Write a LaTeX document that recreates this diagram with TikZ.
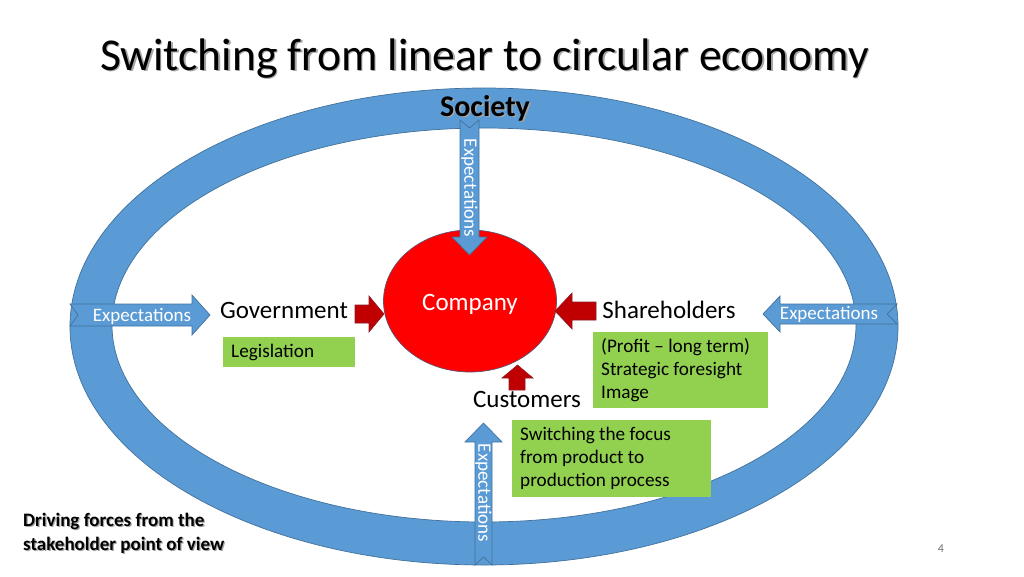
\documentclass[tikz,border=0pt]{standalone}
\usepackage{fontspec}
\setmainfont{Carlito}
\usetikzlibrary{shapes.geometric}
\definecolor{ringblue}{HTML}{5B9BD5}
\definecolor{ringedge}{HTML}{41719C}
\definecolor{leafgreen}{HTML}{92D050}
\definecolor{darkred}{HTML}{C00000}
\definecolor{compred}{HTML}{FF0000}
\definecolor{redge}{HTML}{8E1B2A}
\begin{document}
\begin{tikzpicture}[x=1pt,y=-1pt,
  bluearrow/.style={fill=ringblue,draw=ringedge,line width=0.7pt,line join=miter},
  redarrow/.style={fill=darkred,draw=redge,line width=0.6pt,line join=miter},
  biglabel/.style={font=\fontsize{25}{30}\selectfont,inner sep=0pt,anchor=base},
  explabel/.style={font=\fontsize{19}{22}\selectfont,text=white,inner sep=0pt},
  greenbox/.style={fill=leafgreen,draw=none,anchor=north west,align=flush left,inner xsep=8pt,inner ysep=0pt,font=\fontsize{19.2}{23}\selectfont},
  shadowtext/.style={text=black!35,inner sep=0pt,anchor=base west}
]
\useasboundingbox (0,0) rectangle (1024,576);
\fill[white] (0,0) rectangle (1024,576);

% title
\node[shadowtext,font=\fontsize{45.6}{50}\selectfont] (titleshadow) at (101.5,71.5) {Switching from linear to circular economy};
\node[inner sep=0pt,anchor=base west,font=\fontsize{45.6}{50}\selectfont] (title) at (100,70) {Switching from linear to circular economy};

% society ring
\path[fill=ringblue,draw=ringedge,line width=0.7pt,even odd rule]
  (484,326.5) ellipse [x radius=414, y radius=238.5]
  (484,325) ellipse [x radius=372, y radius=197];

% company
\node[ellipse,minimum width=173pt,minimum height=142pt,inner sep=0pt,fill=compred,draw=ringedge!60!redge,line width=0.7pt] (company) at (470,301) {};
\node[biglabel,text=white] (companytext) at (470,310) {Company};

% stakeholder labels
\node[biglabel] (gov) at (284,318) {Government};
\node[biglabel] (share) at (669,318) {Shareholders};

% top expectations arrow (society -> company)
\path[bluearrow] (460,120) -- (460,237) -- (452,237) -- (469.5,255) -- (487,237) -- (479,237) -- (479,120) -- (469.5,128) -- cycle;
\node[explabel,rotate=-90] (topexp) at (469.5,188) {Expectations};

% left expectations arrow (society -> government)
\path[bluearrow] (70,304) -- (192,304) -- (192,295) -- (210,315) -- (192,335) -- (192,326) -- (70,326) -- (78,315) -- cycle;
\node[explabel] (leftexp) at (142,316) {Expectations};

% right expectations arrow (society -> shareholders)
\path[bluearrow] (897,304) -- (780,304) -- (780,296) -- (763,314) -- (780,332) -- (780,324) -- (897,324) -- (887,314) -- cycle;
\node[explabel] (rightexp) at (829,314) {Expectations};

% bottom expectations arrow (society -> customers)
\path[bluearrow] (475,565) -- (475,442) -- (465,442) -- (483.5,423) -- (502,442) -- (492,442) -- (492,565) -- (483.5,557) -- cycle;
\node[explabel,rotate=-90] (botexp) at (483.5,493) {Expectations};

% society label
\node[shadowtext,font=\bfseries\fontsize{30}{34}\selectfont,anchor=base] (socshadow) at (486.5,117.5) {Society};
\node[inner sep=0pt,anchor=base,font=\bfseries\fontsize{30}{34}\selectfont] (society) at (485,116) {Society};

% red arrows into company
\path[redarrow] (355,305) -- (369,305) -- (369,296) -- (384,314) -- (369,332) -- (369,323) -- (355,323) -- cycle;
\path[redarrow] (596,302) -- (572,302) -- (572,293) -- (555,311) -- (572,329) -- (572,320) -- (596,320) -- cycle;
\path[redarrow] (509,390) -- (509,378) -- (502,378) -- (517.5,365) -- (533,378) -- (525,378) -- (525,390) -- cycle;
\node[biglabel] (cust) at (527,407) {Customers};

% green boxes
\node[greenbox,text width=116pt,minimum height=30pt] (legis) at (223,337) {Legislation};
\node[greenbox,text width=159pt,minimum height=76pt] (sharebox) at (593,332) {(Profit – long term)\\Strategic foresight\\Image};
\node[greenbox,text width=183pt,minimum height=77pt] (custbox) at (512,420) {Switching the focus\\from product to\\production process};

% bottom-left caption
\node[shadowtext,font=\bfseries\fontsize{19}{24}\selectfont,align=flush left,anchor=north west] (capshadow) at (24.2,514.2) {Driving forces from the\\stakeholder point of view};
\node[inner sep=0pt,font=\bfseries\fontsize{19}{24}\selectfont,align=flush left,anchor=north west] (caption) at (23,513) {Driving forces from the\\stakeholder point of view};

% page number
\node[inner sep=0pt,text=black!55,font=\fontsize{12}{14}\selectfont] (pagenum) at (941,549) {4};
\end{tikzpicture}
\end{document}
